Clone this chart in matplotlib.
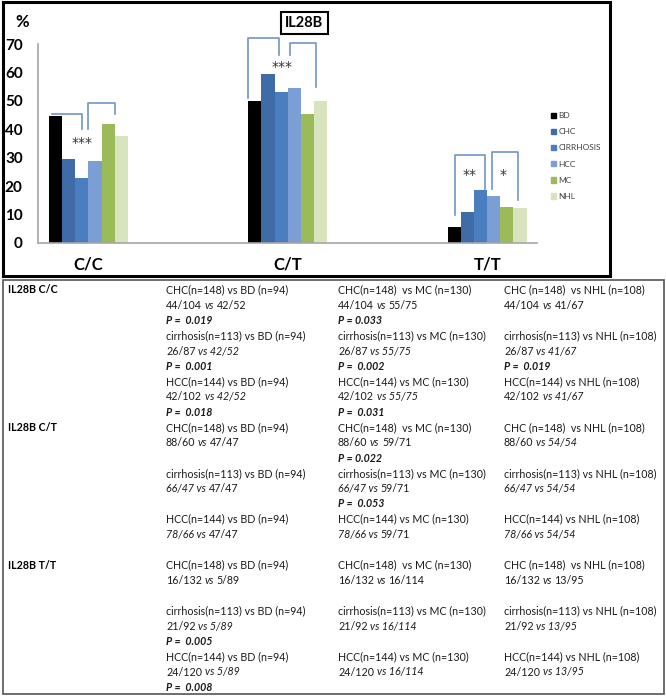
import matplotlib
matplotlib.use('Agg')
import matplotlib.pyplot as plt
from matplotlib.patches import Rectangle, Patch

plt.rcParams['font.family'] = ['Lato', 'DejaVu Sans']

W, H = 666, 697

genotypes = ['C/C', 'C/T', 'T/T']
groups = ['BD', 'CHC', 'CIRRHOSIS', 'HCC', 'MC', 'NHL']
colors = ['#000000', '#3f6ca6', '#4a7ebf', '#7b9fd4', '#9bbb59', '#d7e4bd']
pct = {
    'BD':        [44.5, 50.0, 5.5],
    'CHC':       [29.6, 59.5, 10.8],
    'CIRRHOSIS': [23.0, 53.2, 18.5],
    'HCC':       [28.9, 54.5, 16.5],
    'MC':        [41.8, 45.5, 12.6],
    'NHL':       [37.6, 50.0, 12.4],
}

# significance brackets: genotype, left bar, right bar, y left end, y top, y right end
brackets = [
    (0, -0.25, 2.0, 45.5, 45.5, 40.0),
    (0, 2.5, 4.55, 40.0, 49.2, 45.5),
    (1, -0.5, 1.8, 51.0, 72.0, 66.0),
    (1, 2.65, 4.65, 66.0, 70.5, 55.0),
    (2, 0.05, 2.35, 10.0, 31.0, 19.0),
    (2, 2.85, 4.85, 19.0, 32.0, 15.0),
]
stars = [(0, 2.05, 36.0, '***'), (1, 2.05, 63.0, '***'),
         (2, 1.15, 25.0, '**'), (2, 3.7, 25.0, '*')]

# table below the chart ('_' toggles italic)
row_labels = {0: 'IL28B C/C', 9: 'IL28B C/T', 18: 'IL28B T/T'}
col_bd = [
    'CHC(n=148) vs BD (n=94)', '44/104 _vs_ 42/52', 'P =  0.019',
    'cirrhosis(n=113) vs BD (n=94)', '26/87 _vs 42/52_', 'P =  0.001',
    'HCC(n=144) vs BD (n=94)', '42/102 _vs 42/52_', 'P =  0.018',
    'CHC(n=148) vs BD (n=94)', '88/60 _vs_ 47/47', '',
    'cirrhosis(n=113) vs BD (n=94)', '_66/47 vs_ 47/47', '',
    'HCC(n=144) vs BD (n=94)', '_78/66 vs_ 47/47', '',
    'CHC(n=148) vs BD (n=94)', '16/132 _vs_ 5/89', '',
    'cirrhosis(n=113) vs BD (n=94)', '21/92 _vs 5/89_', 'P =  0.005',
    'HCC(n=144) vs BD (n=94)', '24/120 _vs 5/89_', 'P =  0.008',
]
col_mc = [
    'CHC(n=148)  vs MC (n=130)', '44/104 _vs_ 55/75', 'P = 0.033',
    'cirrhosis(n=113) vs MC (n=130)', '26/87 _vs 55/75_', 'P =  0.002',
    'HCC(n=144) vs MC (n=130)', '42/102 _vs 55/75_', 'P =  0.031',
    'CHC(n=148)  vs MC (n=130)', '88/60 _vs_ 59/71', 'P = 0.022',
    'cirrhosis(n=113) vs MC (n=130)', '_66/47 vs_ 59/71', 'P =  0.053',
    'HCC(n=144) vs MC (n=130)', '_78/66 vs_ 59/71', '',
    'CHC(n=148)  vs MC (n=130)', '16/132 _vs_ 16/114', '',
    'cirrhosis(n=113) vs MC (n=130)', '21/92 _vs 16/114_', '',
    'HCC(n=144) vs MC (n=130)', '24/120 _vs 16/114_', '',
]
col_nhl = [
    'CHC (n=148)  vs NHL (n=108)', '44/104 _vs_ 41/67', '',
    'cirrhosis(n=113) vs NHL (n=108)', '26/87 _vs 41/67_', 'P =  0.019',
    'HCC(n=144) vs NHL (n=108)', '42/102 _vs 41/67_', '',
    'CHC (n=148)  vs NHL (n=108)', '88/60 _vs 54/54_', '',
    'cirrhosis(n=113) vs NHL (n=108)', '_66/47 vs 54/54_', '',
    'HCC(n=144) vs NHL (n=108)', '_78/66 vs 54/54_', '',
    'CHC (n=148)  vs NHL (n=108)', '16/132 _vs_ 13/95', '',
    'cirrhosis(n=113) vs NHL (n=108)', '21/92 _vs 13/95_', '',
    'HCC(n=144) vs NHL (n=108)', '24/120 _vs 13/95_', '',
]

fig = plt.figure(figsize=(W / 100, H / 100), dpi=100)
ax = fig.add_axes([38 / W, 1 - 243 / H, 499 / W, 199 / H])

w = 0.066
for i, g in enumerate(groups):
    xs = [k + (i - 2.5) * w for k in range(3)]
    ax.bar(xs, pct[g], width=w, color=colors[i], label=g)

def bar_x(gi, b):
    return gi + (b - 2.5) * w

bcol = '#6f95c9'
for gi, b0, b1, yl, yt, yr in brackets:
    x0, x1 = bar_x(gi, b0), bar_x(gi, b1)
    ax.plot([x0, x0, x1, x1], [yl, yt, yt, yr], color=bcol, lw=1.2, clip_on=False)
for gi, b, y, s in stars:
    ax.text(bar_x(gi, b), y - 1.0, s, ha='center', va='center', fontsize=10,
            color='#333333', family='DejaVu Sans')

ax.set_xlim(-0.253, 2.25)
ax.set_ylim(0, 70)
ax.set_yticks(range(0, 71, 10))
ax.set_xticks(range(3))
ax.set_xticklabels(genotypes, fontsize=12, fontweight='bold')
ax.tick_params(axis='y', length=0, pad=11, labelsize=11)
ax.tick_params(axis='x', length=0, pad=10)
for lab in ax.get_yticklabels():
    lab.set_fontweight('bold')
for sp in ['top', 'right']:
    ax.spines[sp].set_visible(False)
for sp in ['left', 'bottom']:
    ax.spines[sp].set_color('#a6a6a6')
    ax.spines[sp].set_linewidth(1.2)

handles = [Patch(color=c, label=g) for c, g in zip(colors, groups)]
leg = fig.legend(handles=handles, loc='upper left', bbox_to_anchor=(547 / W, 1 - 108 / H),
                 frameon=False, fontsize=6, handlelength=0.6, handleheight=0.6,
                 handletextpad=0.3, labelspacing=1.1, borderpad=0)
for t in leg.get_texts():
    t.set_color('#404040')

fig.text(22 / W, 1 - 22 / H, '%', ha='center', va='center', fontsize=12, fontweight='bold')
fig.text(304 / W, 1 - 23 / H, 'IL28B', ha='center', va='center', fontsize=10.5,
         fontweight='bold', bbox=dict(boxstyle='square,pad=0.3', fc='white', ec='black', lw=1.5))

fig.patches.append(Rectangle((3 / W, 1 - 276 / H), 607 / W, 274 / H, fill=False,
                             ec='black', lw=2.2, transform=fig.transFigure, figure=fig))
fig.patches.append(Rectangle((3 / W, 1 - 694 / H), 661 / W, 414 / H, fill=False,
                             ec='#555555', lw=1.2, transform=fig.transFigure, figure=fig))

renderer = fig.canvas.get_renderer()
tsize = 7.7
tcol = '#1a1a1a'

def put(x, y, s, **kw):
    return fig.text(x / W, 1 - y / H, s, ha='left', va='center', **kw)

def put_mixed(x, y, s):
    if s.startswith('P'):
        put(x, y, s, fontsize=tsize, style='italic', fontweight='bold', color=tcol)
        return
    for k, part in enumerate(s.split('_')):
        part = part.strip()
        if not part:
            continue
        t = put(x, y, part, fontsize=tsize, style='italic' if k % 2 else 'normal', color=tcol)
        x += t.get_window_extent(renderer).width + 2.6

row0, dy = 290, 15.28
for r, lab in row_labels.items():
    put(8, row0 + r * dy, lab, fontsize=tsize, fontweight='bold', color='black')
for cx, col in [(166, col_bd), (338, col_mc), (504, col_nhl)]:
    for r, s in enumerate(col):
        if s:
            put_mixed(cx, row0 + r * dy, s)

fig.savefig('out.png', dpi=100)
